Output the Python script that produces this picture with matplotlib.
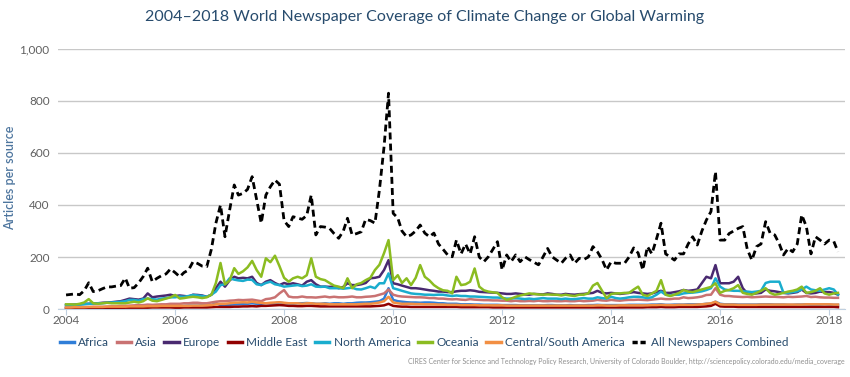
import numpy as np
import pandas as pd
import matplotlib
matplotlib.use('Agg')
import matplotlib.pyplot as plt
from matplotlib.lines import Line2D

plt.rcParams['font.family'] = ['Lato', 'DejaVu Sans']

# monthly values, Jan 2004 - Mar 2018 (articles per source)
months = pd.date_range('2004-01-01', periods=171, freq='MS')

africa = [5,5,5,6,6,6,7,7,7,7,8,8,
          8,8,9,9,9,10,10,10,10,11,11,12,
          12,12,12,13,13,13,14,14,15,23,15,15,
          16,18,18,20,20,22,20,20,22,22,22,25,
          22,20,20,22,22,23,22,20,20,22,20,22,
          22,20,22,22,24,25,25,26,28,30,40,80,
          35,30,28,26,25,25,24,25,25,24,22,22,
          20,20,20,18,18,18,17,17,16,16,16,16,
          15,15,15,15,14,14,14,14,14,14,15,15,
          14,14,14,15,14,14,14,15,15,16,15,15,
          15,15,15,15,16,16,16,16,16,17,17,18,
          16,16,17,17,17,18,18,18,18,20,20,28,
          20,18,18,18,17,17,17,17,17,18,18,18,
          17,17,17,16,16,17,17,18,17,17,17,18,
          17,16,16]

asia = [5,5,6,6,7,7,8,8,8,9,10,10,
        12,12,13,14,15,15,17,16,17,18,18,20,
        20,20,22,22,24,24,22,22,25,28,30,30,
        32,33,35,34,35,36,33,30,38,40,45,60,
        73,48,45,45,48,45,45,44,46,48,45,47,
        45,45,46,48,45,45,47,48,50,55,60,75,
        55,50,48,47,46,45,45,44,42,42,40,40,
        38,37,38,36,35,38,36,35,34,34,33,33,
        32,32,30,32,30,30,31,30,32,30,30,31,
        30,30,31,30,30,32,30,31,32,35,33,32,
        35,33,32,34,35,35,36,35,34,36,38,40,
        38,38,40,40,45,42,43,45,48,54,55,80,
        55,50,50,48,47,46,47,45,46,47,48,47,
        47,46,45,47,46,47,48,50,46,47,45,44,
        44,43,43]

europe = [15,16,17,18,20,20,22,22,24,25,26,28,
          30,35,40,38,36,40,60,45,48,50,52,55,
          50,52,50,48,55,54,52,47,55,80,105,86,
          110,124,118,120,118,124,100,92,105,111,100,92,
          100,95,99,95,90,105,111,95,86,86,85,86,
          80,85,99,92,92,95,100,118,120,124,150,188,
          99,95,90,85,80,80,78,75,72,70,67,67,
          65,65,68,70,70,72,70,66,65,64,63,62,
          60,58,58,60,58,56,55,58,57,56,60,58,
          55,55,58,56,55,57,58,60,62,70,62,60,
          62,60,58,60,62,65,62,60,58,60,65,70,
          62,62,65,68,73,70,72,75,100,124,118,169,
          99,99,99,105,124,80,60,58,60,62,75,70,
          68,65,62,60,62,65,75,62,60,62,67,65,
          65,62,55]

middle_east = [3,3,3,3,3,4,4,4,4,4,4,4,
               4,5,5,5,5,5,5,6,6,6,6,6,
               5,5,6,6,6,6,6,6,7,8,8,8,
               8,9,9,10,10,11,10,12,12,13,14,15,
               14,12,12,11,11,12,12,11,10,10,10,10,
               10,10,10,10,10,10,10,10,11,12,14,20,
               12,10,9,9,8,8,8,8,8,8,8,8,
               8,8,8,7,7,7,7,7,7,7,6,6,
               6,6,6,6,6,6,6,6,6,6,6,6,
               6,6,6,6,6,6,6,6,6,6,6,6,
               6,6,6,6,6,6,6,6,7,7,7,8,
               7,7,7,8,8,8,8,8,9,10,12,20,
               10,9,9,9,8,8,8,8,8,8,8,8,
               8,8,8,8,8,8,8,8,8,8,8,8,
               8,8,7]

north_america = [15,15,16,17,18,20,20,22,22,24,25,26,
                 28,30,35,35,32,38,40,38,36,40,42,45,
                 45,48,47,50,54,52,50,47,55,67,92,95,
                 118,113,110,108,113,112,95,92,100,105,95,92,
                 86,88,90,92,88,90,95,86,85,86,80,80,
                 80,78,80,82,76,75,80,86,80,99,99,137,
                 80,75,70,65,60,58,57,55,55,54,55,55,
                 52,50,52,50,50,48,48,47,46,45,44,44,
                 42,40,40,42,40,38,40,38,40,42,40,40,
                 40,38,40,38,38,40,42,40,40,45,42,40,
                 47,42,40,42,45,47,47,45,42,45,55,67,
                 55,52,55,55,60,62,63,65,68,73,80,118,
                 86,75,72,70,70,68,67,65,67,70,100,105,
                 105,105,62,62,65,68,75,86,75,72,70,75,
                 80,75,55]

oceania = [18,18,17,20,25,38,22,20,22,24,22,22,
           22,22,25,28,25,30,41,32,30,35,40,45,
           54,40,42,45,47,45,42,45,55,100,177,95,
           110,157,135,145,160,185,150,124,195,180,205,165,
           120,105,118,124,118,130,195,124,115,111,100,90,
           86,80,118,80,95,100,111,120,150,170,215,265,
           111,130,100,118,92,120,169,124,110,92,80,72,
           70,60,124,92,95,105,156,86,72,67,64,62,
           45,35,40,47,52,56,60,58,56,55,56,55,
           55,52,55,52,50,55,55,60,90,100,70,42,
           58,60,60,62,62,75,86,55,50,60,70,111,
           55,50,55,62,73,67,65,70,75,80,85,99,
           62,70,73,80,92,62,58,55,62,70,80,62,
           55,58,62,67,70,75,86,62,65,70,80,60,
           55,60,62]

central_south_america = [6,6,7,7,7,8,8,8,8,9,9,9,
                         9,9,10,10,10,10,11,11,11,12,12,12,
                         12,12,12,12,13,13,13,14,15,18,20,20,
                         22,24,25,26,25,28,25,24,22,24,25,26,
                         24,22,22,22,20,22,22,20,20,20,18,18,
                         18,18,18,18,18,19,20,20,22,25,30,47,
                         25,22,20,20,20,19,19,18,18,18,17,17,
                         16,16,16,15,15,15,15,14,14,14,14,14,
                         14,13,13,13,13,13,13,13,13,13,13,13,
                         13,13,13,13,13,13,13,13,13,14,14,13,
                         13,13,14,14,14,14,14,14,14,15,15,16,
                         15,15,15,16,16,16,16,17,18,20,22,28,
                         18,17,17,17,16,16,16,16,16,17,17,17,
                         17,17,17,17,17,17,17,18,18,18,18,18,
                         18,17,17]

all_combined = [54,56,58,55,70,101,67,70,78,85,85,88,
                90,119,80,82,100,125,157,105,118,128,135,154,
                140,124,140,150,182,175,165,163,230,330,400,278,
                380,477,438,445,460,509,420,330,438,470,496,480,
                340,317,355,350,345,360,438,285,317,315,310,290,
                272,300,349,285,290,297,345,340,330,458,624,830,
                368,350,300,278,285,300,323,292,278,292,250,230,
                208,201,265,212,250,212,278,200,182,201,230,259,
                150,208,182,208,182,201,190,180,170,200,233,201,
                188,176,195,208,176,195,190,200,240,220,190,150,
                182,176,176,176,200,235,215,150,240,212,270,330,
                212,200,188,212,212,250,278,246,300,342,375,528,
                265,265,290,300,310,317,230,188,240,250,336,292,
                285,250,208,233,220,250,362,317,212,278,265,250,
                265,260,220]

names = ['Africa', 'Asia', 'Europe', 'Middle East', 'North America',
         'Oceania', 'Central/South America']
series = [africa, asia, europe, middle_east, north_america, oceania,
          central_south_america]
colors = ['#2f7ed8', '#c97272', '#492970', '#910000', '#1aadce',
          '#8bbc21', '#f28f43']

fig = plt.figure(figsize=(8.5, 3.77), dpi=100)
ax = fig.add_axes([58/850, 1-309/377, (845-58)/850, 260/377])

for name, vals, c in zip(names, series, colors):
    ax.plot(months, vals, color=c, lw=1.8, label=name, solid_joinstyle='round')
ax.plot(months, all_combined, color='black', lw=2.0, dashes=(2.5, 1.5),
        label='All Newspapers Combined')

ax.set_ylim(0, 1000)
ax.set_yticks(range(0, 1001, 200))
ax.set_yticklabels(['{:,}'.format(v) for v in range(0, 1001, 200)])
ax.set_xlim(pd.Timestamp('2003-11-08'), pd.Timestamp('2018-04-17'))
years = list(range(2004, 2019, 2))
ax.set_xticks([pd.Timestamp(f'{y}-01-01') for y in years])
ax.set_xticklabels([str(y) for y in years])

ax.grid(axis='y', color='#c8c8c8', lw=1)
ax.set_axisbelow(True)
for s in ['top', 'right', 'left']:
    ax.spines[s].set_visible(False)
ax.spines['bottom'].set_color('#c0d0e0')
ax.tick_params(axis='y', length=0, pad=6, labelsize=8.5, labelcolor='#606060')
ax.tick_params(axis='x', length=4, color='#c0d0e0', pad=0, labelsize=8.5,
               labelcolor='#606060')

fig.text(0.5, 1-17/377,
         '2004\u20132018 World Newspaper Coverage of Climate Change or Global Warming',
         ha='center', va='center', fontsize=11.5, color='#274b6d')
fig.text(10/850, 1-178/377, 'Articles per source', rotation=90, ha='center',
         va='center', fontsize=9, color='#4d759e', fontweight='semibold')

handles = [Line2D([], [], color=c, lw=2.5) for c in colors]
handles.append(Line2D([], [], color='black', lw=2.5, dashes=(1.5, 0.8)))
fig.legend(handles, names + ['All Newspapers Combined'], loc='center',
           bbox_to_anchor=(424/850, 1-343/377), ncol=8, frameon=False,
           fontsize=8.5, handlelength=1.2, handletextpad=0.4,
           columnspacing=0.6, labelcolor='#274b6d')

fig.text(845/850, 1-361/377,
         'CIRES Center for Science and Technology Policy Research, University of Colorado Boulder, '
         'http://sciencepolicy.colorado.edu/media_coverage',
         ha='right', va='center', fontsize=5, color='#909090')

fig.savefig('out.png', dpi=100)
